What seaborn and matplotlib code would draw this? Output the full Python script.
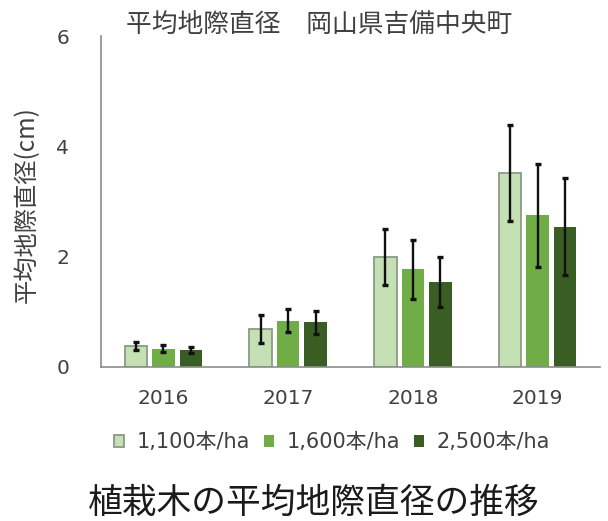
import numpy as np
import pandas as pd
import matplotlib
matplotlib.use("Agg")
import matplotlib.pyplot as plt
from matplotlib.patches import Patch
from matplotlib.ticker import FixedLocator
import seaborn as sns

# --- data ---------------------------------------------------------------
years = ["2016", "2017", "2018", "2019"]
densities = ["1,100本/ha", "1,600本/ha", "2,500本/ha"]
mean_1100 = [0.38, 0.69, 2.00, 3.51]
mean_1600 = [0.33, 0.84, 1.77, 2.75]
mean_2500 = [0.31, 0.81, 1.54, 2.54]
err_1100 = [0.08, 0.26, 0.51, 0.87]
err_1600 = [0.06, 0.21, 0.53, 0.93]
err_2500 = [0.06, 0.21, 0.46, 0.88]
y_ticks = [0, 2, 4, 6]

means = [mean_1100, mean_1600, mean_2500]
errs = [err_1100, err_1600, err_2500]

df = pd.DataFrame({
    "year": np.repeat([years], len(densities), axis=0).ravel(),
    "density": np.repeat(densities, len(years)),
    "diameter": np.concatenate(means),
})

colors = ["#c5e0b4", "#70ad47", "#3a5d23"]
edge_light = "#8a9c84"
text_grey = "#404040"
axis_grey = "#8c8c8c"

# --- figure -------------------------------------------------------------
sns.set_style("white")
plt.rcParams["font.family"] = ["DejaVu Sans", "Noto Sans CJK JP"]

fig = plt.figure(figsize=(6.08, 5.21), dpi=100)
ax = fig.add_axes([101 / 608, 1 - 367 / 521, 499 / 608, 331 / 521])

sns.barplot(data=df, x="year", y="diameter", hue="density",
            order=years, hue_order=densities, palette=colors,
            saturation=1, width=0.66, gap=0.18, errorbar=None,
            legend=False, linewidth=0, ax=ax)

# outline on the lightest series, error bars on every series
for i, (cont, e) in enumerate(zip(ax.containers, errs)):
    xs = [b.get_x() + b.get_width() / 2 for b in cont]
    hs = [b.get_height() for b in cont]
    if i == 0:
        for b in cont:
            b.set_edgecolor(edge_light)
            b.set_linewidth(1.3)
    ax.errorbar(xs, hs, yerr=e, fmt="none", ecolor="#111111",
                elinewidth=1.7, capsize=2.5, capthick=2.4, zorder=5)

ax.set_xlim(-0.5, len(years) - 0.5)
ax.set_ylim(0, 6)
ax.set_yticks(y_ticks)
ax.set_yticklabels([str(t) for t in y_ticks])

for s in ["top", "right"]:
    ax.spines[s].set_visible(False)
for s in ["left", "bottom"]:
    ax.spines[s].set_color(axis_grey)
    ax.spines[s].set_linewidth(1.2)

ax.tick_params(axis="y", length=0, pad=23, labelsize=14.5, labelcolor=text_grey)
ax.tick_params(axis="x", which="major", length=0, pad=16, labelsize=14.5,
               labelcolor=text_grey)
ax.xaxis.set_minor_locator(FixedLocator(np.arange(0.5, len(years), 1.0)))
ax.tick_params(axis="x", which="minor", direction="in", length=3.5,
               width=1.2, color=axis_grey)

ax.set_xlabel("")
ax.set_ylabel("平均地際直径(cm)", fontsize=17.5, color=text_grey,
              family=["Noto Sans CJK JP"], va="center")
ax.yaxis.set_label_coords((27 - 101) / 499, 0.49)

# chart title
fig.text(319 / 608, 1 - 25 / 521, "平均地際直径　岡山県吉備中央町",
         ha="center", va="center", fontsize=18.5, color=text_grey,
         family=["Noto Sans CJK JP"])

# legend
handles = [Patch(facecolor=colors[0], edgecolor=edge_light, linewidth=1.3),
           Patch(facecolor=colors[1], edgecolor="none"),
           Patch(facecolor=colors[2], edgecolor="none")]
fig.legend(handles, densities, loc="center", ncol=3, frameon=False,
           bbox_to_anchor=(332 / 608, 1 - 442 / 521),
           fontsize=15, labelcolor=text_grey,
           handlelength=0.5, handleheight=0.5, handletextpad=0.6,
           columnspacing=0.65, borderpad=0)

# caption
fig.text(314 / 608, 1 - 503 / 521, "植栽木の平均地際直径の推移",
         ha="center", va="center", fontsize=25, color="#1a1a1a",
         family=["Noto Sans CJK JP"])

fig.savefig("out.png", dpi=100, facecolor="white")
